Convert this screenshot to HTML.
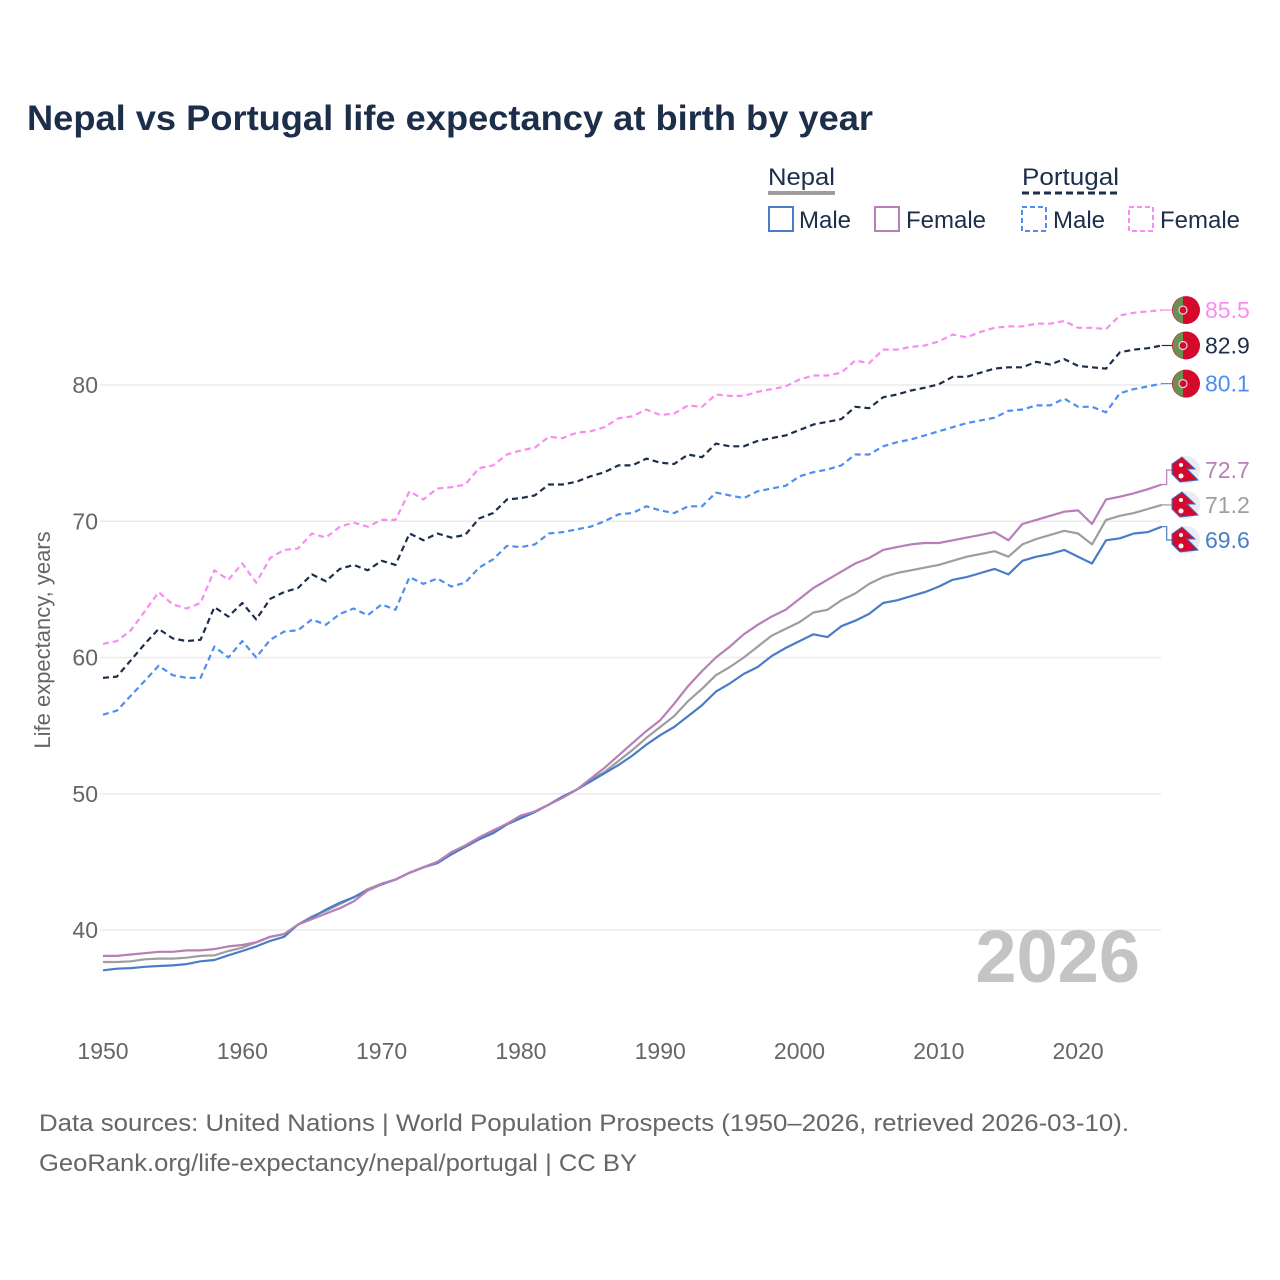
<!DOCTYPE html>
<html><head><meta charset="utf-8"><style>
html,body{margin:0;padding:0;background:#fff;}
svg{display:block;font-family:"Liberation Sans",sans-serif;}
</style></head><body>
<svg id="chart" width="1280" height="1280" viewBox="0 0 1280 1280" xmlns="http://www.w3.org/2000/svg">
<rect width="1280" height="1280" fill="#fff"/>
<text x="27" y="130" font-size="35" font-weight="bold" fill="#1c2e4a" textLength="846" lengthAdjust="spacingAndGlyphs">Nepal vs Portugal life expectancy at birth by year</text>
<g>
<text x="768" y="185" font-size="24" fill="#1c2e4a" textLength="67" lengthAdjust="spacingAndGlyphs">Nepal</text>
<line x1="768" y1="193" x2="835" y2="193" stroke="#9e9e9e" stroke-width="4"/>
<text x="1022" y="185" font-size="24" fill="#1c2e4a" textLength="97" lengthAdjust="spacingAndGlyphs">Portugal</text>
<line x1="1022" y1="193" x2="1118" y2="193" stroke="#1c2e4a" stroke-width="3" stroke-dasharray="7,4"/>
<g><rect x="769" y="207" width="24" height="24" fill="none" stroke="#4a7cc7" stroke-width="2"/><text x="799" y="228" font-size="24" fill="#1c2e4a">Male</text></g>
<g><rect x="875" y="207" width="24" height="24" fill="none" stroke="#b77fb7" stroke-width="2"/><text x="906" y="228" font-size="24" fill="#1c2e4a">Female</text></g>
<g><rect x="1022" y="207" width="24" height="24" fill="none" stroke="#4d8ff0" stroke-width="2" stroke-dasharray="5,3"/><text x="1053" y="228" font-size="24" fill="#1c2e4a">Male</text></g>
<g><rect x="1129" y="207" width="24" height="24" fill="none" stroke="#f78df0" stroke-width="2" stroke-dasharray="5,3"/><text x="1160" y="228" font-size="24" fill="#1c2e4a">Female</text></g>
</g>
<g id="grid"></g>
<g id="axes"></g>
<text transform="translate(50,640) rotate(-90)" text-anchor="middle" font-size="22" fill="#666">Life expectancy, years</text>
<text x="1140" y="982" text-anchor="end" font-size="74" font-weight="bold" fill="#c4c4c4">2026</text>
<g id="series"></g>
<g id="endlabels"></g>
<text x="39" y="1131" font-size="24" fill="#666" textLength="1090" lengthAdjust="spacingAndGlyphs">Data sources: United Nations | World Population Prospects (1950–2026, retrieved 2026-03-10).</text>
<text x="39" y="1171" font-size="24" fill="#666" textLength="598" lengthAdjust="spacingAndGlyphs">GeoRank.org/life-expectancy/nepal/portugal | CC BY</text>
</svg>
<script>
const years = []; for (let y = 1950; y <= 2026; y++) years.push(y);
const yTicks = [40, 50, 60, 70, 80];
const xTicks = [1950, 1960, 1970, 1980, 1990, 2000, 2010, 2020];
const nepalFemale = [38.1,38.1,38.2,38.3,38.4,38.4,38.5,38.5,38.6,38.8,38.9,39.1,39.5,39.7,40.4,40.8,41.2,41.6,42.1,42.9,43.4,43.7,44.2,44.6,45.0,45.7,46.2,46.8,47.3,47.8,48.4,48.7,49.2,49.7,50.3,
51.1,51.9,52.8,53.7,54.6,55.4,56.6,57.9,59.0,60.0,60.8,61.7,62.4,63.0,63.5,64.3,65.1,65.7,66.3,66.9,67.3,67.9,68.1,68.3,68.4,68.4,68.6,68.8,69.0,69.2,68.6,69.8,70.1,70.4,70.7,70.8,69.8,71.6,71.8,72.05,72.35,72.7];
const nepalTotal = [37.65,37.65,37.7,37.85,37.9,37.9,37.97,38.1,38.14,38.46,38.7,39.1,39.5,39.7,40.4,41.0,41.4,41.9,42.4,43.0,43.4,43.7,44.2,44.6,45.0,45.6,46.15,46.7,47.2,47.8,48.3,48.7,49.2,49.75,50.3,
51.0,51.6,52.4,53.2,54.1,54.9,55.7,56.8,57.7,58.7,59.3,60.0,60.8,61.6,62.1,62.6,63.3,63.5,64.2,64.7,65.4,65.9,66.2,66.4,66.6,66.8,67.1,67.4,67.6,67.8,67.4,68.3,68.7,69.0,69.3,69.1,68.3,70.1,70.4,70.6,70.9,71.2];
const nepalMale = [37.04,37.16,37.2,37.3,37.36,37.4,37.5,37.7,37.8,38.14,38.46,38.8,39.2,39.5,40.4,40.9,41.5,42.0,42.4,42.9,43.35,43.7,44.2,44.6,44.9,45.55,46.1,46.65,47.1,47.75,48.2,48.65,49.2,49.8,50.3,
50.9,51.5,52.1,52.8,53.6,54.3,54.9,55.7,56.5,57.5,58.1,58.8,59.3,60.1,60.7,61.2,61.7,61.5,62.3,62.7,63.2,64.0,64.2,64.5,64.8,65.2,65.7,65.9,66.2,66.5,66.1,67.1,67.4,67.6,67.9,67.4,66.9,68.6,68.75,69.1,69.2,69.6];
const portugalFemale = [61.0,61.2,62.0,63.4,64.8,63.9,63.6,64.0,66.4,65.7,66.9,65.5,67.3,67.9,68.0,69.1,68.8,69.6,69.9,69.6,70.1,70.1,72.2,71.6,72.4,72.5,72.7,73.9,74.1,74.9,75.2,75.4,76.2,76.1,76.5,76.6,76.9,
77.55,77.7,78.2,77.8,77.9,78.5,78.4,79.3,79.2,79.2,79.5,79.7,79.9,80.4,80.7,80.7,80.9,81.8,81.6,82.6,82.6,82.8,82.9,83.2,83.7,83.5,83.9,84.2,84.3,84.3,84.5,84.5,84.7,84.2,84.2,84.1,85.1,85.3,85.4,85.5];
const portugalTotal = [58.5,58.6,59.8,61.0,62.1,61.4,61.2,61.3,63.7,63.0,64.0,62.8,64.3,64.8,65.1,66.1,65.6,66.5,66.8,66.4,67.1,66.8,69.1,68.6,69.1,68.8,69.0,70.2,70.6,71.6,71.7,71.9,72.7,72.7,72.9,73.3,73.6,
74.1,74.1,74.6,74.3,74.2,74.9,74.7,75.7,75.5,75.5,75.9,76.1,76.3,76.7,77.1,77.3,77.5,78.4,78.3,79.1,79.3,79.6,79.8,80.05,80.6,80.6,80.9,81.2,81.3,81.3,81.7,81.5,81.9,81.4,81.3,81.2,82.4,82.6,82.7,82.9];
const portugalMale = [55.8,56.1,57.2,58.3,59.4,58.7,58.5,58.5,60.8,60.0,61.2,60.0,61.3,61.9,62.0,62.8,62.4,63.2,63.6,63.1,63.9,63.5,65.9,65.4,65.8,65.2,65.5,66.6,67.2,68.2,68.1,68.3,69.1,69.2,69.4,69.6,70.0,
70.5,70.6,71.1,70.8,70.6,71.1,71.1,72.1,71.9,71.7,72.2,72.4,72.6,73.3,73.6,73.8,74.1,74.9,74.9,75.5,75.8,76.0,76.3,76.6,76.9,77.2,77.4,77.6,78.1,78.2,78.5,78.5,79.0,78.4,78.4,78.0,79.4,79.7,79.9,80.1];

const NS = 'http://www.w3.org/2000/svg';
const X0 = 103, PX_PER_YEAR = 13.93, Y80 = 385, PX_PER_UNIT = 13.625;
function xScale(yr){ return X0 + (yr - 1950) * PX_PER_YEAR; }
function yScale(v){ return Y80 - (v - 80) * PX_PER_UNIT; }
function mk(tag, attrs, parent){ const e = document.createElementNS(NS, tag); for (const k in attrs) e.setAttribute(k, attrs[k]); parent.appendChild(e); return e; }

const grid = document.getElementById('grid');
const axes = document.getElementById('axes');
yTicks.forEach(v => {
  const l = mk('line', {x1: 100, x2: 1161, y1: yScale(v), y2: yScale(v), stroke: '#ebebeb', 'stroke-width': 1.5}, grid);
  
  
  const t = mk('text', {x: 98, y: yScale(v) + 8, 'text-anchor': 'end', 'font-size': 23, fill: '#666'}, axes);
  t.textContent = v;
  
  
});
xTicks.forEach(yr => {
  const t = mk('text', {x: xScale(yr), y: 1059, 'text-anchor': 'middle', 'font-size': 23, fill: '#666'}, axes);
  t.textContent = yr;
  
  
});

const seriesDefs = [
  {name: 'nepal-total', data: nepalTotal, color: '#9e9e9e', dash: null},
  {name: 'nepal-male', data: nepalMale, color: '#4a7cc7', dash: null},
  {name: 'nepal-female', data: nepalFemale, color: '#b77fb7', dash: null},
  {name: 'portugal-male', data: portugalMale, color: '#4d8ff0', dash: '6,4'},
  {name: 'portugal-female', data: portugalFemale, color: '#f78df0', dash: '6,4'},
  {name: 'portugal-total', data: portugalTotal, color: '#1c2e4a', dash: '6,4'}
];
const sg = document.getElementById('series');
seriesDefs.forEach(s => {
  const d = s.data.map((v, i) => (i ? 'L' : 'M') + xScale(years[i]).toFixed(1) + ',' + yScale(v).toFixed(1)).join('');
  const attrs = {d: d, fill: 'none', stroke: s.color, 'stroke-width': 2.2, 'stroke-linejoin': 'round'};
  if (s.dash) attrs['stroke-dasharray'] = s.dash;
  const p = mk('path', attrs, sg);
  
  
});

const eg = document.getElementById('endlabels');
const lastX = xScale(2026);
const endDefs = [
  {name: 'portugal-female', data: portugalFemale, color: '#f78df0', flag: 'pt', ly: null},
  {name: 'portugal-total', data: portugalTotal, color: '#1c2e4a', flag: 'pt', ly: null},
  {name: 'portugal-male', data: portugalMale, color: '#4d8ff0', flag: 'pt', ly: null},
  {name: 'nepal-female', data: nepalFemale, color: '#b77fb7', flag: 'np', ly: 470},
  {name: 'nepal-total', data: nepalTotal, color: '#9e9e9e', flag: 'np', ly: 505},
  {name: 'nepal-male', data: nepalMale, color: '#4a7cc7', flag: 'np', ly: 540}
];
endDefs.forEach(e => {
  const v = e.data[e.data.length - 1];
  const vy = yScale(v);
  const ly = e.ly === null ? vy : e.ly;
  const g = mk('g', {}, eg);
  
  
  mk('path', {d: `M${lastX},${vy}H${lastX+5}V${ly}H${lastX+12}`, fill: 'none', stroke: e.color, 'stroke-width': 1.2}, g);
  const cx = 1186, r = 14;
  if (e.flag === 'pt') {
    mk('circle', {cx: cx, cy: ly, r: r, fill: '#d4092c'}, g);
    mk('path', {d: `M${cx-3},${ly-r+0.5}A${r},${r} 0 0 0 ${cx-3},${ly+r-0.5}Z`, fill: '#6a9153'}, g);
    mk('circle', {cx: cx-3, cy: ly, r: 4, fill: '#d4092c', stroke: '#ddd', 'stroke-width': 1.2}, g);
  } else {
    mk('circle', {cx: cx, cy: ly, r: r, fill: '#ececf0'}, g);
    mk('path', {d: `M${cx-14},${ly-6}L${cx-4},${ly-13}L${cx+9},${ly-1}L${cx+1},${ly-1}L${cx+12},${ly+10}L${cx-6},${ly+12}L${cx-14},${ly+4}Z`, fill: '#d4092c', stroke: '#3d6bc6', 'stroke-width': 1}, g);
    mk('circle', {cx: cx-5, cy: ly-5, r: 2, fill: '#fff'}, g);
    mk('circle', {cx: cx-5, cy: ly+6, r: 2.5, fill: '#fff'}, g);
  }
  const t = mk('text', {x: 1205, y: ly + 8, 'font-size': 23, fill: e.color}, g);
  t.textContent = v.toFixed(1);
});
</script>
</body></html>
